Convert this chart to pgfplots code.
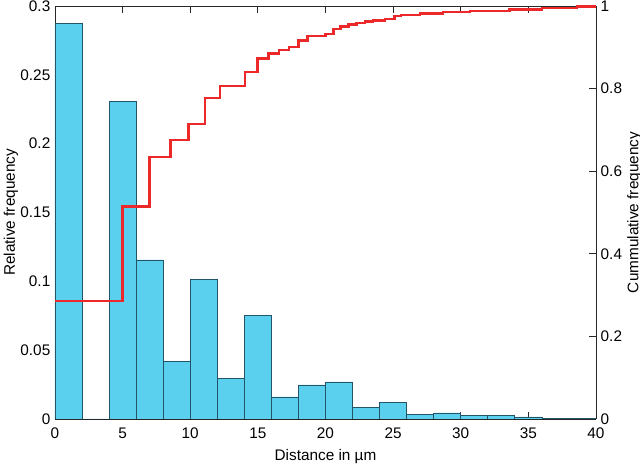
\documentclass[border=0pt]{standalone}
\usepackage{fontspec}
\setmainfont{Liberation Sans}
\usepackage{pgfplots}
\pgfplotsset{compat=1.18}
\definecolor{barfill}{RGB}{90,207,238}
\definecolor{baredge}{RGB}{35,85,105}
\definecolor{cdfred}{RGB}{236,40,40}
\definecolor{axgray}{RGB}{40,40,40}
\begin{document}
\begin{tikzpicture}
\useasboundingbox (0,0) rectangle (480pt,348pt);
\pgfplotsset{
  every axis/.append style={
    scale only axis, width=405.75pt, height=309.75pt,
    at={(41.25pt,33.75pt)}, anchor=south west,
    xmin=0, xmax=40,
    tick align=inside,
    font=\fontsize{11.5}{13.5}\selectfont,
    /pgf/number format/assume math mode=true,
    axis line style={axgray, line width=0.6pt},
    every tick/.style={axgray, line width=0.6pt},
    major tick length=5pt,
    tick label style={text=black},
  }
}
\begin{axis}[
  ymin=0, ymax=0.3,
  xtick={0,5,...,40},
  ytick={0,0.05,0.1,0.15,0.2,0.25,0.3},
  yticklabels={0,0.05,0.1,0.15,0.2,0.25,0.3},
  xtick pos=both, ytick pos=left,
  axis y line*=left,
  axis x line*=box,
  xticklabel style={yshift=-3pt},
  xlabel={Distance in µm},
  ylabel={Relative frequency},
  xlabel style={yshift=-1pt},
  ylabel style={yshift=-5pt},
]
\addplot[ybar interval, fill=barfill, draw=baredge, line width=0.6pt] coordinates {
(0,0.287) (2,0) (4,0.2305) (6,0.1155) (8,0.0421) (10,0.1015) (12,0.0296)
(14,0.0755) (16,0.016) (18,0.0247) (20,0.0269) (22,0.0087) (24,0.0118)
(26,0.0036) (28,0.0044) (30,0.0024) (32,0.0025) (34,0.0015) (36,0.0007)
(38,0.0007) (40,0)
};
\draw[axgray, line width=0.6pt] (axis cs:0,0.3) -- (axis cs:40,0.3);
\end{axis}
\begin{axis}[
  ymin=0, ymax=1,
  axis x line=none,
  axis y line*=right,
  ytick={0,0.2,0.4,0.6,0.8,1},
  yticklabels={0,0.2,0.4,0.6,0.8,1},
  ylabel={Cummulative frequency},
  ylabel style={yshift=3pt},
]
\addplot[const plot, cdfred, line width=1.8pt] coordinates {
(0,0.286) (5,0.515) (7,0.634) (8.55,0.6755) (9.88,0.714) (11.1,0.777)
(12.2,0.807) (14.07,0.840) (14.98,0.873) (15.8,0.885) (16.54,0.893)
(17.28,0.901) (17.99,0.916) (18.68,0.928) (20.0,0.932) (20.6,0.944)
(21.1,0.950) (21.7,0.955) (22.3,0.959) (22.9,0.962) (23.5,0.965)
(24.4,0.968) (25.1,0.976) (25.6,0.978) (27.0,0.982) (28.7,0.985)
(30.7,0.988) (33.6,0.992) (36.0,0.995) (38.6,0.9985) (40,1)
};
\end{axis}
\end{tikzpicture}
\end{document}
